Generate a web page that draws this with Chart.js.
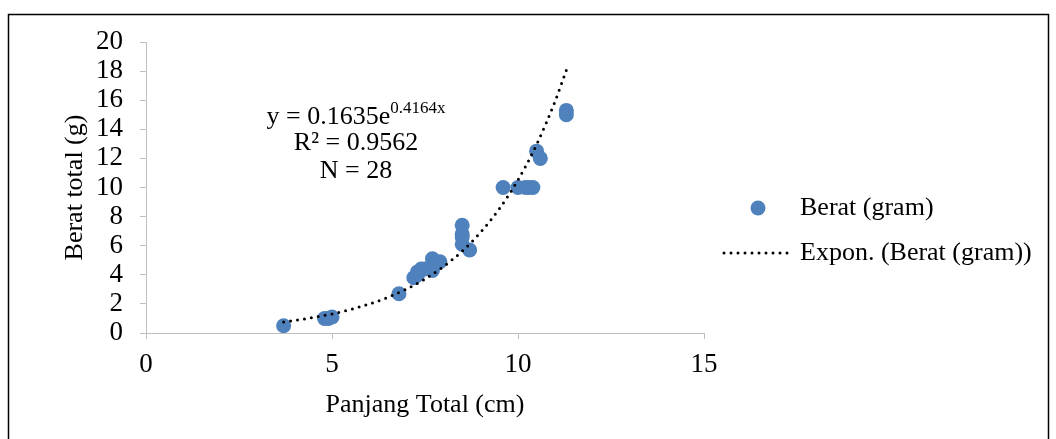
<!DOCTYPE html>
<html>
<head>
<meta charset="utf-8">
<script src="https://cdn.jsdelivr.net/npm/chart.js@4/dist/chart.umd.min.js"></script>
<style>
  html, body { margin: 0; padding: 0; background: #fff; }
  #wrap { width: 1056px; height: 439px; position: relative; }
</style>
</head>
<body>
<div id="wrap"><canvas id="chart" width="1056" height="439"></canvas></div>
<script>
// panjang total (cm) vs berat (gram), N = 28
const panjang = [3.7, 4.8, 4.9, 5.0, 6.8, 7.2, 7.3, 7.3, 7.4, 7.5, 7.7, 7.7, 7.8, 7.9,
  8.5, 8.5, 8.5, 8.5, 8.7, 9.6, 10.0, 10.2, 10.3, 10.4, 10.5, 10.6, 11.3, 11.3];
const berat = [0.5, 1.0, 1.0, 1.1, 2.7, 3.8, 4.0, 4.2, 4.4, 4.4, 4.3, 5.1, 4.8, 4.9,
  7.4, 6.8, 6.6, 6.1, 5.7, 10.0, 10.0, 10.0, 10.0, 10.0, 12.5, 12.0, 15.3, 15.0];

// exponential trendline y = 0.1635e^(0.4164x)
const trendX = [3.7, 4.0, 4.5, 5.0, 5.5, 6.0, 6.5, 7.0, 7.5, 8.0, 8.5, 9.0, 9.5, 10.0, 10.5, 11.0, 11.3];
const trendY = [0.76, 0.87, 1.07, 1.31, 1.62, 1.99, 2.45, 3.02, 3.71, 4.57, 5.63, 6.94, 8.54, 10.52, 12.95, 15.95, 18.07];

const xTicks = [0, 5, 10, 15];
const yTicks = [0, 2, 4, 6, 8, 10, 12, 14, 16, 18, 20];

const serif = "'Liberation Serif', 'Times New Roman', serif";
const blue = '#4f81bd';
const axisGray = '#bfbfbf';

const extras = {
  id: 'extras',
  afterDraw(chart) {
    const ctx = chart.ctx;
    ctx.save();
    // outer frame
    ctx.strokeStyle = '#000';
    ctx.lineWidth = 1.5;
    ctx.strokeRect(8.5, 14.5, 1040, 500);

    // equation annotation
    ctx.fillStyle = '#000';
    ctx.textBaseline = 'middle';
    const cx = 356;
    ctx.font = '26px ' + serif;
    const main = 'y = 0.1635e';
    const wMain = ctx.measureText(main).width;
    ctx.font = '17px ' + serif;
    const sup = '0.4164x';
    const wSup = ctx.measureText(sup).width;
    const x0 = cx - (wMain + wSup) / 2;
    ctx.font = '26px ' + serif;
    ctx.textAlign = 'left';
    ctx.fillText(main, x0, 117);
    ctx.font = '17px ' + serif;
    ctx.fillText(sup, x0 + wMain, 109);
    ctx.font = '26px ' + serif;
    ctx.textAlign = 'center';
    ctx.fillText('R² = 0.9562', cx, 143);
    ctx.fillText('N = 28', cx, 171);

    // legend
    ctx.textAlign = 'left';
    ctx.fillStyle = blue;
    ctx.beginPath();
    ctx.arc(758, 208, 7.5, 0, Math.PI * 2);
    ctx.fill();
    ctx.fillStyle = '#000';
    ctx.fillText(chart.data.datasets[0].label, 800, 208);
    ctx.strokeStyle = '#000';
    ctx.lineWidth = 3;
    ctx.lineCap = 'round';
    ctx.setLineDash([0, 7]);
    ctx.beginPath();
    ctx.moveTo(724, 253);
    ctx.lineTo(794, 253);
    ctx.stroke();
    ctx.setLineDash([]);
    ctx.fillText(chart.data.datasets[1].label, 800, 253);
    ctx.restore();
  }
};

new Chart(document.getElementById('chart'), {
  type: 'scatter',
  data: {
    datasets: [
      {
        label: 'Berat (gram)',
        data: panjang.map((p, i) => ({ x: p, y: berat[i] })),
        backgroundColor: blue,
        borderWidth: 0,
        pointRadius: 7.5,
        pointHoverRadius: 7.5,
        order: 1
      },
      {
        label: 'Expon. (Berat (gram))',
        type: 'line',
        data: trendX.map((t, i) => ({ x: t, y: trendY[i] })),
        borderColor: '#000',
        borderWidth: 3,
        borderCapStyle: 'round',
        borderDash: [0, 7],
        cubicInterpolationMode: 'monotone',
        pointRadius: 0,
        fill: false,
        order: 0
      }
    ]
  },
  options: {
    responsive: false,
    animation: false,
    events: [],
    layout: { padding: { left: 56, right: 352, top: 42, bottom: 0 } },
    plugins: {
      legend: { display: false },
      tooltip: { enabled: false }
    },
    scales: {
      x: {
        type: 'linear',
        min: 0,
        max: 15,
        afterBuildTicks: (s) => { s.ticks = xTicks.map(v => ({ value: v })); },
        afterFit: (s) => { s.height = 106; },
        border: { color: axisGray, width: 1 },
        grid: { display: true, drawOnChartArea: false, drawTicks: true, tickLength: 6, color: axisGray },
        ticks: { color: '#000', font: { family: serif, size: 27 }, padding: 10, maxRotation: 0, autoSkip: false },
        title: { display: true, text: 'Panjang Total (cm)', color: '#000', font: { family: serif, size: 26 }, padding: { top: 0, bottom: 18 } }
      },
      y: {
        type: 'linear',
        min: 0,
        max: 20,
        afterBuildTicks: (s) => { s.ticks = yTicks.map(v => ({ value: v })); },
        afterFit: (s) => { s.width = 90; },
        border: { color: axisGray, width: 1 },
        grid: { display: true, drawOnChartArea: false, drawTicks: true, tickLength: 6, color: axisGray },
        ticks: { color: '#000', font: { family: serif, size: 27 }, padding: 17, autoSkip: false },
        title: { display: true, text: 'Berat total (g)', color: '#000', font: { family: serif, size: 26 }, padding: { top: 4, bottom: 0 } }
      }
    }
  },
  plugins: [extras]
});
</script>
</body>
</html>
